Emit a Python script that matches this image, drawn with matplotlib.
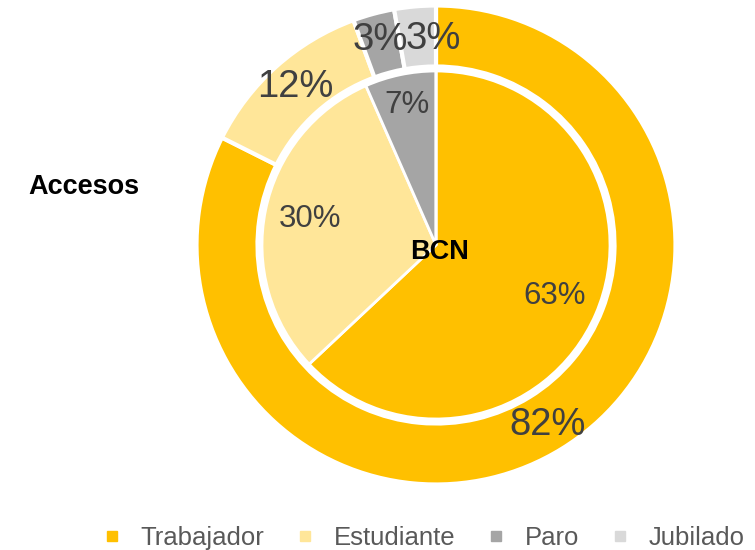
import numpy as np
import matplotlib
matplotlib.use("Agg")
import matplotlib.pyplot as plt
from matplotlib.lines import Line2D

plt.rcParams["font.family"] = ["Liberation Sans", "DejaVu Sans"]

categories = ["Trabajador", "Estudiante", "Paro", "Jubilado"]
colors = ["#FFC000", "#FFE699", "#A5A5A5", "#D9D9D9"]

# outer ring: Accesos, inner pie: BCN
accesos = [82.4, 12.0, 2.8, 2.8]
bcn = [63.0, 30.4, 6.6, 0.0]

TEXT = "#404040"


def pct_fmt(p):
    return f"{p:.0f}%" if p >= 0.5 else ""


fig = plt.figure(figsize=(7.55, 5.5), dpi=100)
ax = fig.add_axes([0, 0, 1, 1])

cx, cy = 436, 305

outer_wedges, _, outer_txt = ax.pie(
    accesos,
    radius=239.5,
    center=(cx, cy),
    startangle=90,
    counterclock=False,
    colors=colors,
    autopct=pct_fmt,
    pctdistance=0.885,
    wedgeprops=dict(width=61, edgecolor="white", linewidth=3),
    textprops=dict(fontsize=27.5, color=TEXT),
)

inner_wedges, _, inner_txt = ax.pie(
    bcn,
    radius=174,
    center=(cx, cy),
    startangle=90,
    counterclock=False,
    colors=colors,
    autopct=pct_fmt,
    pctdistance=0.74,
    wedgeprops=dict(edgecolor="white", linewidth=2),
    textprops=dict(fontsize=22.5, color=TEXT),
)

# pie() resets the limits, so set the pixel frame afterwards
ax.set_xlim(0, 755)
ax.set_ylim(0, 550)
ax.set_aspect("equal")
ax.axis("off")

# small nudges like the original labels
x, y = outer_txt[3].get_position()
outer_txt[3].set_position((x + 16, y - 5))
w = inner_wedges[2]
ang = np.deg2rad((w.theta1 + w.theta2) / 2)
inner_txt[2].set_position((cx + 143 * np.cos(ang), cy + 143 * np.sin(ang)))

fig.text(84 / 755, 1 - 187 / 550, "Accesos", ha="center", va="center",
         fontsize=19.5, fontweight="bold", color="black")
fig.text(440 / 755, 1 - 252 / 550, "BCN", ha="center", va="center",
         fontsize=19.5, fontweight="bold", color="black")

handles = [
    Line2D([], [], linestyle="none", marker="s", markersize=7.5,
           markerfacecolor=c, markeredgecolor=c)
    for c in colors
]
fig.legend(
    handles, categories,
    loc="center", bbox_to_anchor=(0.562, 0.022), ncol=4, frameon=False,
    handlelength=0.6, handletextpad=0.8, columnspacing=1.3,
    prop=dict(size=18.5), labelcolor="#595959",
)

fig.savefig("out.png", dpi=100)
